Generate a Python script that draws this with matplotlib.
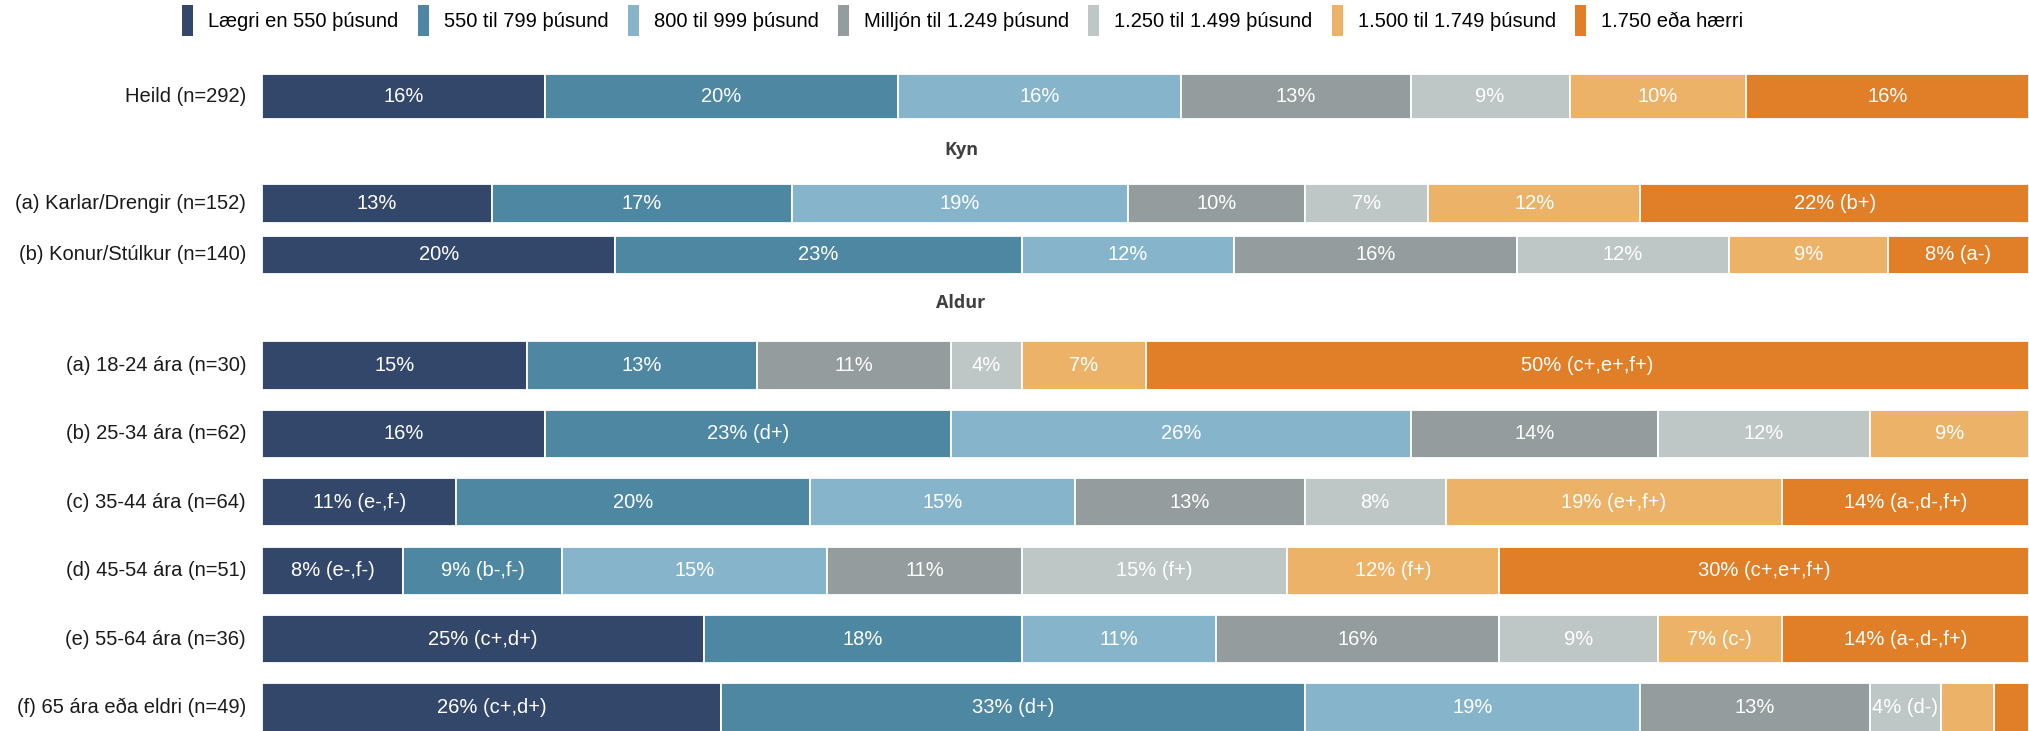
import matplotlib
matplotlib.use("Agg")
import matplotlib.pyplot as plt
from matplotlib.patches import Patch

# Income bands (legend order) and their colours
categories = [
    "Lægri en 550 þúsund",
    "550 til 799 þúsund",
    "800 til 999 þúsund",
    "Milljón til 1.249 þúsund",
    "1.250 til 1.499 þúsund",
    "1.500 til 1.749 þúsund",
    "1.750 eða hærri",
]
colors = ["#33476a", "#4e87a1", "#86b5cb", "#959c9e", "#bfc6c6", "#ecb368", "#e07f28"]

# Overall
total_rows = ["Heild (n=292)"]
total_values = [[16, 20, 16, 13, 9, 10, 16]]
total_notes = [["", "", "", "", "", "", ""]]

# Gender
gender_title = "Kyn"
gender_rows = ["(a) Karlar/Drengir (n=152)", "(b) Konur/Stúlkur (n=140)"]
gender_values = [
    [13, 17, 19, 10, 7, 12, 22],
    [20, 23, 12, 16, 12, 9, 8],
]
gender_notes = [
    ["", "", "", "", "", "", "(b+)"],
    ["", "", "", "", "", "", "(a-)"],
]

# Age
age_title = "Aldur"
age_rows = [
    "(a) 18-24 ára (n=30)",
    "(b) 25-34 ára (n=62)",
    "(c) 35-44 ára (n=64)",
    "(d) 45-54 ára (n=51)",
    "(e) 55-64 ára (n=36)",
    "(f) 65 ára eða eldri (n=49)",
]
age_values = [
    [15, 13, 0, 11, 4, 7, 50],
    [16, 23, 26, 14, 12, 9, 0],
    [11, 20, 15, 13, 8, 19, 14],
    [8, 9, 15, 11, 15, 12, 30],
    [25, 18, 11, 16, 9, 7, 14],
    [26, 33, 19, 13, 4, 3, 2],
]
age_notes = [
    ["", "", "", "", "", "", "(c+,e+,f+)"],
    ["", "(d+)", "", "", "", "", ""],
    ["(e-,f-)", "", "", "", "", "(e+,f+)", "(a-,d-,f+)"],
    ["(e-,f-)", "(b-,f-)", "", "", "(f+)", "(f+)", "(c+,e+,f+)"],
    ["(c+,d+)", "", "", "", "", "(c-)", "(a-,d-,f+)"],
    ["(c+,d+)", "(d+)", "", "", "(d-)", "", ""],
]

W, H = 2029, 731
FONT = ["Liberation Sans", "DejaVu Sans"]
plt.rcParams["font.family"] = FONT

fig = plt.figure(figsize=(W / 100, H / 100), dpi=100)

BAR_LEFT = 262      # px where bars start
LABEL_GAP = 16      # px between row label and bar
MIN_LABEL = 4       # smallest share that gets a value label


def panel(top, pitch, bar, rows, values, notes):
    """Stacked 100% bars; `top` is the top edge of the first bar in px."""
    n = len(rows)
    pad = (pitch - bar) / 2
    y0 = top - pad
    ax = fig.add_axes([BAR_LEFT / W, 1 - (y0 + n * pitch) / H,
                       1 - BAR_LEFT / W, n * pitch / H])
    ax.set_xlim(0, 100)
    ax.set_ylim(n - 0.5, -0.5)
    ax.axis("off")
    h = bar / pitch
    for i, (vals, nts) in enumerate(zip(values, notes)):
        left = 0
        for v, note, c in zip(vals, nts, colors):
            if v > 0:
                ax.barh(i, v, left=left, height=h, color=c,
                        edgecolor="white", linewidth=1.3)
                if v >= MIN_LABEL:
                    txt = f"{v}%" + (f" {note}" if note else "")
                    ax.text(left + v / 2, i, txt, ha="center", va="center",
                            color="white", fontsize=14.5)
            left += v
        ax.text(-LABEL_GAP / (W - BAR_LEFT) * 100, i, rows[i], ha="right",
                va="center", fontsize=14.5, color="#1a1a1a", clip_on=False)
    return ax


panel(74, 60, 45, total_rows, total_values, total_notes)
panel(184, 51.5, 38.5, gender_rows, gender_values, gender_notes)
panel(341.3, 68.4, 48.3, age_rows, age_values, age_notes)

# Group headings
for title, y in [(gender_title, 150), (age_title, 303)]:
    fig.text(961 / W, 1 - y / H, title, ha="center", va="center",
             fontsize=13, fontweight="bold", color="#404040",
             family=["Open Sans", "DejaVu Sans"])

handles = [Patch(facecolor=c, edgecolor="none") for c in colors]
fig.legend(handles, categories, loc="upper left",
           bbox_to_anchor=(182 / W, 1 - 5 / H), ncol=7, frameon=False,
           fontsize=14.5, handlelength=0.55, handleheight=2.0,
           handletextpad=0.75, columnspacing=0.95, borderpad=0,
           borderaxespad=0)

fig.savefig("out.png", dpi=100)
